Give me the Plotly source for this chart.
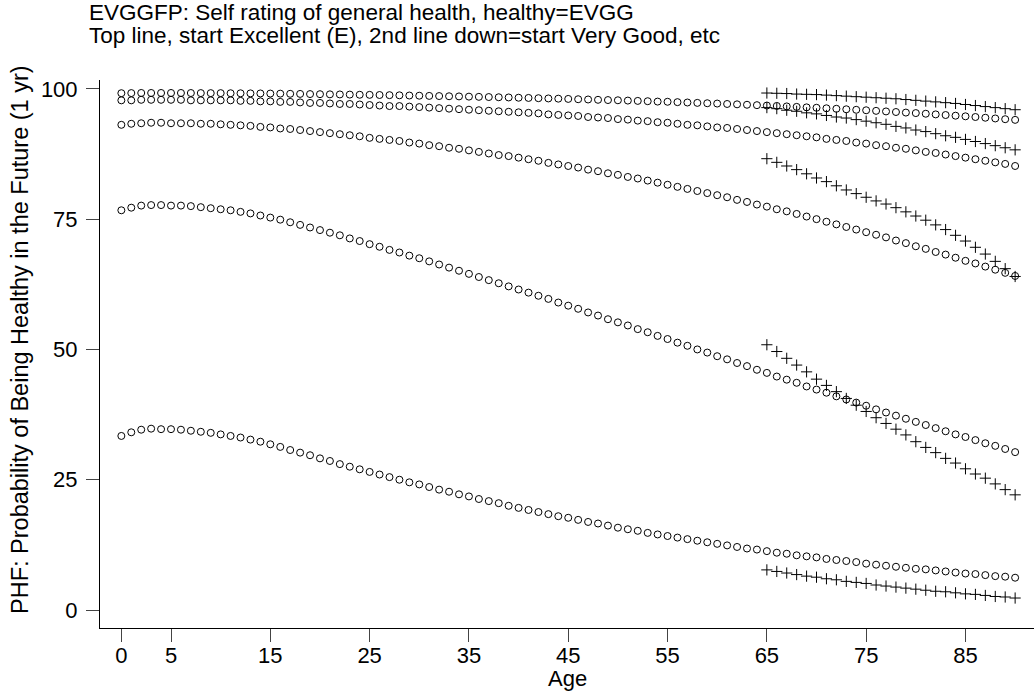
import plotly.graph_objects as go

ages = list(range(0, 91))
ages_old = list(range(65, 91))

# circles: predicted probability by starting rating (E, VG, G, F, P)
excellent = [99.17, 99.19, 99.21, 99.21, 99.21, 99.21, 99.21, 99.20, 99.19, 99.18,
             99.18, 99.16, 99.15, 99.13, 99.12, 99.10, 99.08, 99.05, 99.03, 99.00,
             98.98, 98.95, 98.93, 98.90, 98.87, 98.85, 98.82, 98.79, 98.76, 98.72,
             98.69, 98.65, 98.62, 98.58, 98.55, 98.51, 98.47, 98.43, 98.39, 98.35,
             98.30, 98.26, 98.21, 98.16, 98.12, 98.07, 98.01, 97.96, 97.90, 97.85,
             97.81, 97.75, 97.69, 97.63, 97.56, 97.52, 97.45, 97.38, 97.31, 97.24,
             97.18, 97.10, 97.03, 96.95, 96.87, 96.80, 96.72, 96.63, 96.54, 96.45,
             96.37, 96.27, 96.18, 96.08, 95.98, 95.89, 95.78, 95.67, 95.56, 95.45,
             95.35, 95.23, 95.10, 94.98, 94.85, 94.73, 94.60, 94.46, 94.32, 94.18,
             94.05]
very_good = [97.8, 97.8, 97.9, 97.9, 97.9, 97.9, 97.9, 97.8, 97.8, 97.8,
             97.8, 97.8, 97.7, 97.7, 97.6, 97.6, 97.5, 97.5, 97.4, 97.3,
             97.3, 97.2, 97.1, 97.1, 97.0, 96.9, 96.8, 96.7, 96.7, 96.6,
             96.5, 96.4, 96.3, 96.2, 96.1, 96.0, 95.9, 95.8, 95.7, 95.6,
             95.5, 95.4, 95.3, 95.1, 95.0, 94.9, 94.8, 94.6, 94.5, 94.4,
             94.2, 94.1, 93.9, 93.8, 93.6, 93.5, 93.3, 93.1, 93.0, 92.8,
             92.6, 92.5, 92.3, 92.1, 91.9, 91.7, 91.5, 91.3, 91.1, 90.9,
             90.7, 90.4, 90.2, 90.0, 89.7, 89.5, 89.2, 89.0, 88.7, 88.5,
             88.2, 87.9, 87.7, 87.4, 87.1, 86.8, 86.5, 86.2, 85.9, 85.6,
             85.2]
good = [93.1, 93.3, 93.4, 93.5, 93.5, 93.4, 93.4, 93.4, 93.3, 93.3,
        93.2, 93.1, 93.0, 92.9, 92.7, 92.6, 92.4, 92.3, 92.1, 91.9,
        91.7, 91.5, 91.3, 91.1, 90.9, 90.6, 90.4, 90.2, 90.0, 89.7,
        89.5, 89.2, 89.0, 88.7, 88.5, 88.2, 87.9, 87.6, 87.3, 87.1,
        86.8, 86.5, 86.2, 85.8, 85.5, 85.2, 84.9, 84.5, 84.2, 83.8,
        83.5, 83.1, 82.8, 82.4, 82.0, 81.6, 81.2, 80.8, 80.4, 80.0,
        79.6, 79.2, 78.7, 78.3, 77.8, 77.4, 76.9, 76.5, 76.0, 75.5,
        75.0, 74.5, 74.0, 73.5, 73.0, 72.5, 72.0, 71.5, 70.9, 70.4,
        69.8, 69.3, 68.7, 68.2, 67.6, 67.0, 66.5, 65.9, 65.3, 64.7,
        64.1]
fair = [76.7, 77.2, 77.6, 77.7, 77.7, 77.6, 77.6, 77.5, 77.3, 77.1,
        76.9, 76.7, 76.4, 76.1, 75.7, 75.3, 74.9, 74.4, 73.9, 73.4,
        72.9, 72.4, 71.9, 71.3, 70.8, 70.2, 69.7, 69.1, 68.6, 68.0,
        67.5, 66.9, 66.3, 65.7, 65.1, 64.5, 63.9, 63.3, 62.7, 62.1,
        61.5, 60.9, 60.3, 59.7, 59.0, 58.4, 57.8, 57.1, 56.5, 55.8,
        55.2, 54.6, 53.9, 53.3, 52.6, 52.0, 51.3, 50.7, 50.0, 49.4,
        48.7, 48.1, 47.4, 46.8, 46.1, 45.5, 44.8, 44.2, 43.6, 42.9,
        42.3, 41.7, 41.0, 40.4, 39.8, 39.2, 38.5, 37.9, 37.3, 36.7,
        36.1, 35.5, 34.9, 34.3, 33.7, 33.2, 32.6, 32.0, 31.5, 30.9,
        30.3]
poor = [33.4, 34.1, 34.6, 34.8, 34.7, 34.7, 34.6, 34.4, 34.2, 34.0,
        33.7, 33.4, 33.1, 32.7, 32.3, 31.8, 31.3, 30.7, 30.2, 29.7,
        29.1, 28.6, 28.0, 27.5, 27.0, 26.5, 26.0, 25.5, 25.0, 24.5,
        24.1, 23.6, 23.1, 22.7, 22.2, 21.8, 21.3, 20.9, 20.5, 20.0,
        19.6, 19.2, 18.8, 18.4, 18.0, 17.7, 17.3, 16.9, 16.6, 16.2,
        15.8, 15.5, 15.2, 14.8, 14.5, 14.2, 13.9, 13.6, 13.3, 13.0,
        12.7, 12.4, 12.1, 11.8, 11.6, 11.3, 11.0, 10.8, 10.5, 10.3,
        10.1, 9.8, 9.6, 9.4, 9.2, 8.9, 8.7, 8.5, 8.3, 8.1,
        7.9, 7.8, 7.6, 7.4, 7.2, 7.0, 6.9, 6.7, 6.5, 6.4,
        6.2]

# pluses: ages 65-90
old_excellent = [99.2, 99.15, 99.1, 99.0, 98.95, 98.9, 98.8, 98.7, 98.6, 98.5,
                 98.4, 98.3, 98.2, 98.1, 97.95, 97.8, 97.65, 97.5, 97.35, 97.2,
                 97.0, 96.8, 96.6, 96.4, 96.2, 96.0]
old_very_good = [96.4, 96.2, 95.9, 95.7, 95.4, 95.2, 94.9, 94.6, 94.4, 94.1,
                 93.8, 93.5, 93.2, 92.8, 92.5, 92.1, 91.8, 91.4, 91.0, 90.7,
                 90.3, 89.9, 89.5, 89.1, 88.7, 88.3]
old_good = [86.6, 85.9, 85.2, 84.5, 83.7, 82.9, 82.2, 81.4, 80.6, 79.9,
            79.2, 78.5, 77.9, 77.2, 76.4, 75.6, 74.8, 73.9, 73.0, 71.9,
            70.8, 69.6, 68.3, 66.9, 65.5, 64.0]
old_fair = [50.9, 49.6, 48.3, 47.0, 45.7, 44.3, 43.1, 41.9, 40.6, 39.3,
            38.1, 36.9, 35.8, 34.7, 33.6, 32.3, 31.2, 30.2, 29.1, 28.2,
            27.1, 26.1, 25.3, 24.2, 23.1, 22.1]
old_poor = [7.7, 7.4, 7.1, 6.8, 6.5, 6.3, 6.0, 5.8, 5.5, 5.3,
            5.1, 4.8, 4.6, 4.4, 4.2, 4.0, 3.8, 3.6, 3.5, 3.3,
            3.1, 3.0, 2.8, 2.6, 2.5, 2.3]

x_ticks = [0, 5, 15, 25, 35, 45, 55, 65, 75, 85]
y_ticks = [0, 25, 50, 75, 100]

FONT = "Liberation Sans, Arial, sans-serif"

fig = go.Figure()
for ys in [excellent, very_good, good, fair, poor]:
    fig.add_trace(go.Scatter(
        x=ages, y=ys, mode="markers",
        marker=dict(symbol="circle-open", size=7, color="black",
                    line=dict(width=1, color="black")),
        showlegend=False, hoverinfo="skip"))
for ys in [old_excellent, old_very_good, old_good, old_fair, old_poor]:
    fig.add_trace(go.Scatter(
        x=ages_old, y=ys, mode="markers",
        marker=dict(symbol="cross-thin-open", size=8, color="black",
                    line=dict(width=1, color="black")),
        showlegend=False, hoverinfo="skip"))

W, H = 1034, 692
ml, mr, mt, mb = 100, 0, 80, 64
pw = W - ml - mr
ph = H - mt - mb

fig.update_layout(
    width=W, height=H,
    margin=dict(l=ml, r=mr, t=mt, b=mb),
    paper_bgcolor="white", plot_bgcolor="white",
    font=dict(family=FONT, size=22, color="black"),
    xaxis=dict(range=[-2.15, 91.9], tickmode="array", tickvals=x_ticks,
               ticktext=[str(t) for t in x_ticks],
               showgrid=False, zeroline=False, showline=True,
               linecolor="black", linewidth=1, ticks="outside",
               ticklen=13, tickwidth=1, tickcolor="#444444",
               ticklabelstandoff=-5,
               tickfont=dict(family=FONT, size=22, color="black")),
    yaxis=dict(range=[-3.45, 101.7], tickmode="array", tickvals=y_ticks,
               ticktext=[str(t) for t in y_ticks],
               showgrid=False, zeroline=False, showline=True,
               linecolor="black", linewidth=1, ticks="outside",
               ticklen=13, tickwidth=1, tickcolor="#444444",
               ticklabelstandoff=4,
               tickfont=dict(family=FONT, size=22, color="black")),
    annotations=[
        dict(text="EVGGFP: Self rating of general health, healthy=EVGG",
             xref="paper", yref="paper", x=(87 - ml) / pw, y=(H - mb - 12) / ph,
             xanchor="left", yanchor="middle", showarrow=False,
             font=dict(family=FONT, size=22.5, color="black")),
        dict(text="Top line, start Excellent (E), 2nd line down=start Very Good, etc",
             xref="paper", yref="paper", x=(87 - ml) / pw, y=(H - mb - 36) / ph,
             xanchor="left", yanchor="middle", showarrow=False,
             font=dict(family=FONT, size=22.5, color="black")),
        dict(text="Age", xref="paper", yref="paper", x=0.5,
             y=(H - mb - 678) / ph, xanchor="center", yanchor="middle",
             showarrow=False, font=dict(family=FONT, size=22, color="black")),
        dict(text="PHF: Probability of Being Healthy in the Future (1 yr)",
             xref="paper", yref="paper", x=(20 - ml) / pw, y=(H - mb - 340) / ph,
             xanchor="center", yanchor="middle", textangle=-90,
             showarrow=False, font=dict(family=FONT, size=23.5, color="black")),
    ],
)

fig.write_html("out.html")
